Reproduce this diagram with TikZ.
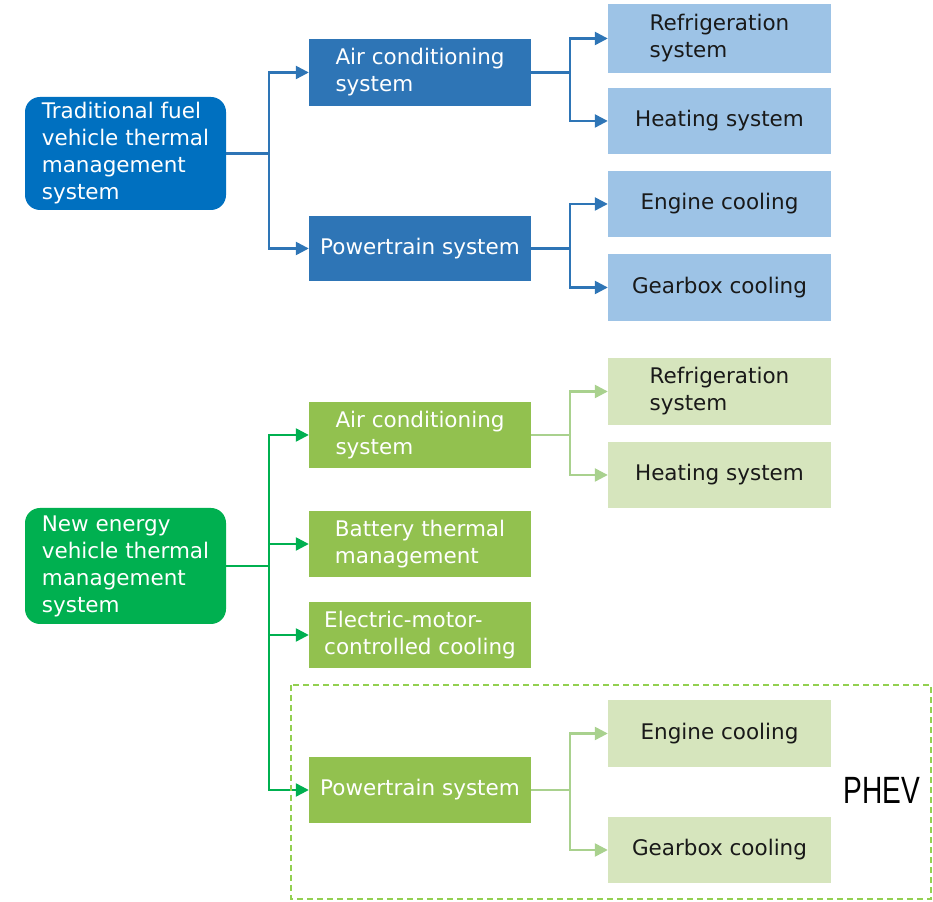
\documentclass[tikz,border=0pt]{standalone}
\usepackage{fontspec}
\setmainfont{DejaVu Sans}
\newfontfamily\phevfont{Liberation Sans}
\usepackage{xcolor}
\usetikzlibrary{arrows.meta,calc}

\definecolor{tradBlue}{RGB}{0,112,192}
\definecolor{midBlue}{RGB}{46,117,182}
\definecolor{paleBlue}{RGB}{157,195,230}
\definecolor{nevGreen}{RGB}{0,176,80}
\definecolor{midGreen}{RGB}{146,193,79}
\definecolor{paleGreen}{RGB}{214,229,189}
\definecolor{paleLine}{RGB}{169,209,142}
\definecolor{phevLine}{RGB}{146,208,80}
\definecolor{darkText}{RGB}{25,25,25}

\begin{document}
\begin{tikzpicture}[x=1pt,y=1pt]
    \tikzstyle{edge}  = [line width=2.4pt,draw=midBlue]
    \tikzstyle{dedge} = [edge,-{Triangle[length=13pt,width=13pt]}]
    \tikzstyle{box}=[
      rectangle,
      inner sep=0pt,
      align=left,
      font=\fontsize{21.5}{27}\selectfont,
      minimum width=222pt,
      minimum height=66pt,
    ]
    \tikzstyle{rootbox}=[
      box,
      rounded corners=15pt,
      minimum width=201pt,
      text=white,
    ]
    \tikzstyle{midbox}=[
      box,
      text=white,
    ]
    \tikzstyle{leafbox}=[
      box,
      minimum width=223pt,
      text=darkText,
    ]

    \useasboundingbox (0,0) rectangle (933,901);

    % traditional fuel vehicle
    {
      \node[rootbox, fill=tradBlue, minimum height=113pt] (trad) at (125.5,747.5)
        {Traditional fuel\\vehicle thermal\\management\\system};

      \node[midbox, fill=midBlue, minimum height=67pt] (tradAC) at (420,828.5) {Air conditioning\\system};
      \node[midbox, fill=midBlue, minimum height=65pt] (tradPT) at (420,652.5) {Powertrain system};

      \node[leafbox, fill=paleBlue, minimum height=69pt] (tradRef) at (719.5,862.5) {Refrigeration\\system};
      \node[leafbox, fill=paleBlue] (tradHeat) at (719.5,780) {Heating system};
      \node[leafbox, fill=paleBlue] (tradEng) at (719.5,697) {Engine cooling};
      \node[leafbox, fill=paleBlue, minimum height=67pt] (tradGear) at (719.5,613.5) {Gearbox cooling};

      \coordinate (tradFork) at ([xshift=43pt] trad.east);
      \coordinate (tradACFork) at ([xshift=39pt] tradAC.east);
      \coordinate (tradPTFork) at ([xshift=39pt] tradPT.east);

      \draw[edge] (trad.east)--(tradFork);
      \draw[dedge] (tradFork) |- (tradAC.west);
      \draw[dedge] (tradFork) |- (tradPT.west);

      \draw[edge] (tradAC.east)--(tradACFork);
      \draw[dedge] (tradACFork) |- (tradRef.west);
      \draw[dedge] (tradACFork) |- (tradHeat.west);

      \draw[edge] (tradPT.east)--(tradPTFork);
      \draw[dedge] (tradPTFork) |- (tradEng.west);
      \draw[dedge] (tradPTFork) |- (tradGear.west);
    }

    % new energy vehicle
    {
      \node[rootbox, fill=nevGreen, minimum height=116pt] (nev) at (125.5,335)
        {New energy\\vehicle thermal\\management\\system};

      \node[midbox, fill=midGreen] (nevAC) at (420,466) {Air conditioning\\system};
      \node[midbox, fill=midGreen] (nevBat) at (420,357) {Battery thermal\\management};
      \node[midbox, fill=midGreen] (nevEM) at (420,266) {Electric-motor-\\controlled cooling};
      \node[midbox, fill=midGreen] (nevPT) at (420,111) {Powertrain system};

      \node[leafbox, fill=paleGreen, minimum height=67pt] (nevRef) at (719.5,509.5) {Refrigeration\\system};
      \node[leafbox, fill=paleGreen] (nevHeat) at (719.5,426) {Heating system};
      \node[leafbox, fill=paleGreen, minimum height=67pt] (nevEng) at (719.5,167.5) {Engine cooling};
      \node[leafbox, fill=paleGreen] (nevGear) at (719.5,51) {Gearbox cooling};

      \coordinate (nevFork) at ([xshift=43pt] nev.east);
      \coordinate (nevACFork) at ([xshift=39pt] nevAC.east);
      \coordinate (nevPTFork) at ([xshift=39pt] nevPT.east);

      \draw[edge, draw=nevGreen] (nev.east)--(nevFork);
      \draw[dedge, draw=nevGreen] (nevFork) |- (nevAC.west);
      \draw[dedge, draw=nevGreen] (nevFork) |- (nevBat.west);
      \draw[dedge, draw=nevGreen] (nevFork) |- (nevEM.west);
      \draw[dedge, draw=nevGreen] (nevFork) |- (nevPT.west);

      \draw[edge, draw=paleLine] (nevAC.east)--(nevACFork);
      \draw[dedge, draw=paleLine] (nevACFork) |- (nevRef.west);
      \draw[dedge, draw=paleLine] (nevACFork) |- (nevHeat.west);

      \draw[edge, draw=paleLine] (nevPT.east)--(nevPTFork);
      \draw[dedge, draw=paleLine] (nevPTFork) |- (nevEng.west);
      \draw[dedge, draw=paleLine] (nevPTFork) |- (nevGear.west);
    }

    % PHEV
    {
      \draw[line width=1.4pt, draw=phevLine, dash pattern=on 6pt off 4pt] (291,216) rectangle (931,2);
      \node[font=\phevfont\fontsize{38}{40}\selectfont, text=black, xscale=0.74] (phev) at (882,111) {PHEV};
    }
\end{tikzpicture}
\end{document}
